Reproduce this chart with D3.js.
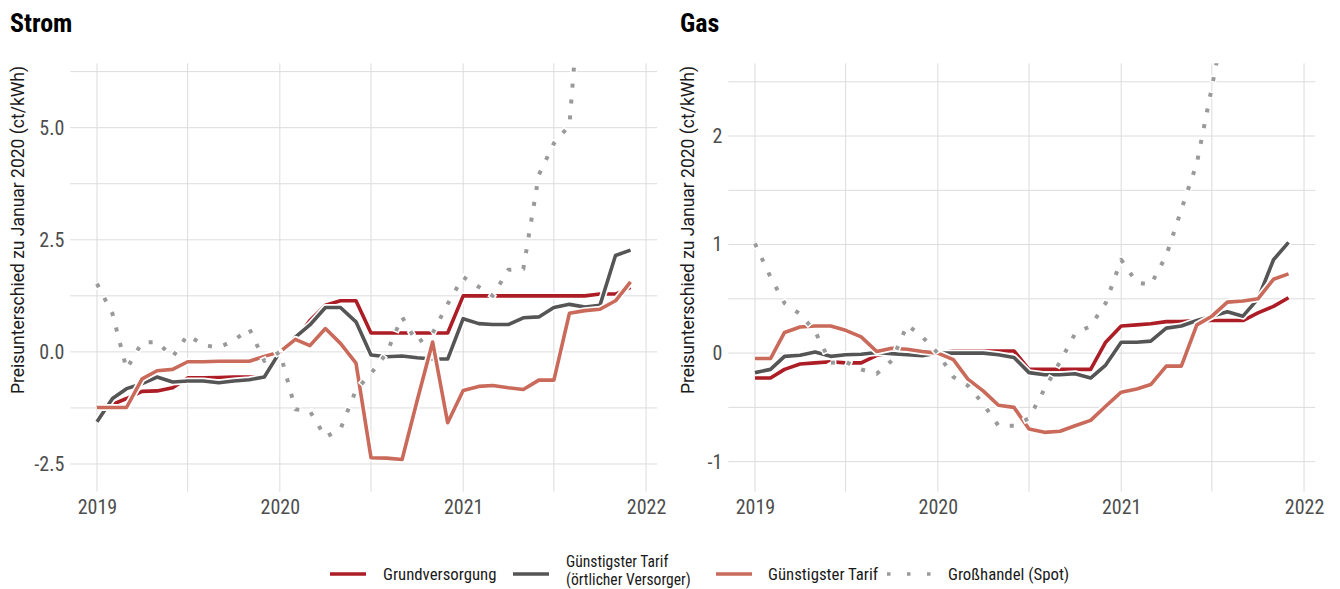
<!DOCTYPE html>
<html>
<head>
<meta charset="utf-8">
<script src="https://cdn.jsdelivr.net/npm/d3@7"></script>
<style>
  body { margin: 0; background: #fff; }
  svg text { font-family: "Roboto Condensed", "Liberation Sans Narrow", "DejaVu Sans Condensed", Roboto, sans-serif; }
  .title { font-weight: bold; font-size: 26px; fill: #000; }
  .axis-title { font-family: Roboto, "Liberation Sans", sans-serif !important; font-size: 17.5px; fill: #1a1a1a; }
  .tick-label { font-size: 20px; fill: #4d4d4d; }
  .legend-label { font-size: 16.8px; fill: #1a1a1a; }
  .legend-label.two { font-size: 15.6px; }
  .grid line { stroke: #dcdcdc; stroke-width: 1; }
</style>
</head>
<body>
<div id="chart"></div>
<script>
// Monthly values, Jan 2019 - Dec 2021 (difference to Jan 2020, ct/kWh)
var months = d3.timeMonth.range(new Date(2019, 0, 1), new Date(2022, 0, 1));

var seriesNames = ['Grundversorgung', 'Günstigster Tarif\n(örtlicher Versorger)', 'Günstigster Tarif', 'Großhandel (Spot)'];
var seriesColors = ['#ad1d25', '#555555', '#c96a5a', '#9a9a9a'];

var stromGrund = [-1.23, -1.17, -1.04, -0.88, -0.87, -0.80, -0.58, -0.58, -0.57, -0.56, -0.56, -0.56,
  0, 0.26, 0.70, 1.04, 1.14, 1.14, 0.42, 0.42, 0.42, 0.42, 0.42, 0.42,
  1.25, 1.25, 1.25, 1.25, 1.25, 1.25, 1.25, 1.25, 1.25, 1.29, 1.29, 1.44];
var stromOrtl = [-1.56, -1.04, -0.82, -0.71, -0.56, -0.67, -0.65, -0.65, -0.69, -0.65, -0.62, -0.56,
  0, 0.33, 0.60, 0.99, 0.99, 0.67, -0.07, -0.11, -0.09, -0.13, -0.16, -0.16,
  0.74, 0.63, 0.61, 0.61, 0.76, 0.78, 0.99, 1.06, 1.00, 1.04, 2.15, 2.27];
var stromGuen = [-1.24, -1.24, -1.24, -0.60, -0.42, -0.39, -0.22, -0.22, -0.21, -0.21, -0.21, -0.10,
  0, 0.28, 0.14, 0.52, 0.19, -0.25, -2.36, -2.37, -2.40, -1.09, 0.22, -1.58,
  -0.86, -0.77, -0.75, -0.80, -0.84, -0.63, -0.63, 0.86, 0.92, 0.95, 1.14, 1.56];
var stromSpot = [1.52, 0.85, -0.38, 0.21, 0.22, -0.11, 0.38, 0.15, 0.10, 0.25, 0.52, -0.20,
  0, -1.28, -1.32, -1.90, -1.72, -0.85, -0.48, -0.03, 0.78, 0.20, 0.42, 1.07,
  1.67, 1.45, 1.25, 1.83, 1.85, 3.95, 4.65, 5.05, 9.50];

var gasGrund = [-0.23, -0.23, -0.15, -0.10, -0.09, -0.08, -0.09, -0.09, -0.02, 0, 0, 0,
  0, 0.02, 0.02, 0.02, 0.02, 0.02, -0.15, -0.15, -0.15, -0.15, -0.15, 0.10,
  0.25, 0.26, 0.27, 0.29, 0.29, 0.30, 0.30, 0.30, 0.30, 0.37, 0.43, 0.51];
var gasOrtl = [-0.18, -0.15, -0.03, -0.02, 0.01, -0.03, -0.015, -0.01, 0.005, -0.005, -0.015, -0.025,
  0, 0, 0, 0, -0.015, -0.04, -0.18, -0.20, -0.20, -0.19, -0.23, -0.11,
  0.10, 0.10, 0.11, 0.23, 0.25, 0.30, 0.34, 0.38, 0.34, 0.50, 0.86, 1.02];
var gasGuen = [-0.05, -0.05, 0.19, 0.24, 0.25, 0.25, 0.21, 0.15, 0.015, 0.045, 0.035, 0.015,
  0, -0.06, -0.24, -0.35, -0.48, -0.50, -0.70, -0.73, -0.72, -0.67, -0.62, -0.49,
  -0.36, -0.33, -0.29, -0.12, -0.12, 0.26, 0.34, 0.47, 0.48, 0.50, 0.68, 0.73];
var gasSpot = [1.01, 0.70, 0.46, 0.36, 0.20, -0.09, -0.08, -0.15, -0.19, -0.07, 0.26, 0.15,
  0, -0.22, -0.30, -0.47, -0.67, -0.67, -0.60, -0.33, -0.08, 0.18, 0.25, 0.46,
  0.86, 0.65, 0.63, 0.90, 1.32, 1.75, 2.45, 3.20];

var yearTicks = [new Date(2019, 0, 1), new Date(2020, 0, 1), new Date(2021, 0, 1), new Date(2022, 0, 1)];
var minorXTicks = [new Date(2019, 6, 1), new Date(2020, 6, 1), new Date(2021, 6, 1)];
var stromTicks = [-2.5, 0, 2.5, 5];
var stromMinor = [-1.25, 1.25, 3.75, 6.25];
var gasTicks = [-1, 0, 1, 2];
var gasMinor = [-0.5, 0.5, 1.5, 2.5];

var panels = [
  { title: 'Strom', left: 0, plotX: [70.3, 657.2], yDomain: [-3.118, 6.436],
    ticks: stromTicks, minor: stromMinor, fmt: d => d.toFixed(1),
    data: [stromGrund, stromOrtl, stromGuen, stromSpot] },
  { title: 'Gas', left: 670, plotX: [728.3, 1315.2], yDomain: [-1.277, 2.67],
    ticks: gasTicks, minor: gasMinor, fmt: d => String(d),
    data: [gasGrund, gasOrtl, gasGuen, gasSpot] }
];

var width = 1340, height = 589;
var plotTop = 63.3, plotBottom = 491.7;

var svg = d3.select('#chart').append('svg')
  .attr('width', width)
  .attr('height', height);

panels.forEach(function(p, pi) {
  var g = svg.append('g');

  var span = months[months.length - 1] - months[0];
  var pad = span * 0.05;
  var xScale = d3.scaleTime()
    .domain([new Date(+months[0] - pad), new Date(+months[months.length - 1] + pad)])
    .range(p.plotX);
  var yScale = d3.scaleLinear()
    .domain(p.yDomain)
    .range([plotBottom, plotTop]);

  // grid
  var grid = g.append('g').attr('class', 'grid');
  grid.selectAll('.hy')
    .data(p.ticks.concat(p.minor).filter(v => v >= p.yDomain[0] && v <= p.yDomain[1]))
    .enter().append('line')
    .attr('x1', p.plotX[0]).attr('x2', p.plotX[1])
    .attr('y1', d => yScale(d)).attr('y2', d => yScale(d));
  grid.selectAll('.vx')
    .data(yearTicks.concat(minorXTicks))
    .enter().append('line')
    .attr('x1', d => xScale(d)).attr('x2', d => xScale(d))
    .attr('y1', plotTop).attr('y2', plotBottom);

  // axes (labels only)
  var yAxis = d3.axisLeft(yScale).tickValues(p.ticks).tickFormat(p.fmt).tickSize(0).tickPadding(6);
  var yg = g.append('g')
    .attr('transform', `translate(${p.plotX[0]},0)`)
    .call(yAxis);
  yg.select('.domain').remove();
  yg.selectAll('text').attr('class', 'tick-label').attr('fill', null);

  var xAxis = d3.axisBottom(xScale).tickValues(yearTicks).tickFormat(d3.timeFormat('%Y')).tickSize(0).tickPadding(8);
  var xg = g.append('g')
    .attr('transform', `translate(0,${plotBottom})`)
    .call(xAxis);
  xg.select('.domain').remove();
  xg.selectAll('text').attr('class', 'tick-label').attr('fill', null);

  // titles
  g.append('text')
    .attr('class', 'title')
    .attr('x', p.left + 10)
    .attr('y', 32)
    .text(p.title);

  g.append('text')
    .attr('class', 'axis-title')
    .attr('transform', `translate(${p.left + 24},230) rotate(-90)`)
    .attr('text-anchor', 'middle')
    .text('Preisunterschied zu Januar 2020 (ct/kWh)');

  // lines
  var clipId = 'clip' + pi;
  svg.append('clipPath').attr('id', clipId)
    .append('rect')
    .attr('x', p.plotX[0]).attr('y', plotTop)
    .attr('width', p.plotX[1] - p.plotX[0]).attr('height', plotBottom - plotTop);

  var line = d3.line()
    .x((d, i) => xScale(months[i]))
    .y(d => yScale(d));

  var lines = g.append('g').attr('clip-path', `url(#${clipId})`);
  p.data.forEach(function(values, si) {
    var dotted = si === 3;
    // white halo
    lines.append('path')
      .attr('d', line(values))
      .attr('fill', 'none')
      .attr('stroke', '#fff')
      .attr('stroke-width', 7)
      .attr('stroke-linejoin', 'round')
      .attr('stroke-dasharray', dotted ? '7 9' : null)
      .attr('stroke-dashoffset', dotted ? 1.5 : null);
    lines.append('path')
      .attr('d', line(values))
      .attr('fill', 'none')
      .attr('stroke', seriesColors[si])
      .attr('stroke-width', dotted ? 4 : 3.6)
      .attr('stroke-linejoin', 'round')
      .attr('stroke-dasharray', dotted ? '4 12' : null);
  });
});

// legend
var legendItems = [
  { key: 330, text: 383 },
  { key: 513, text: 566 },
  { key: 716, text: 768 },
  { key: 887, text: 948 }
];
var legend = svg.append('g').attr('class', 'legend');
legendItems.forEach(function(item, i) {
  var dotted = i === 3;
  legend.append('line')
    .attr('x1', item.key).attr('x2', item.key + (dotted ? 44 : 36))
    .attr('y1', 574).attr('y2', 574)
    .attr('stroke', seriesColors[i])
    .attr('stroke-width', dotted ? 3.5 : 3.6)
    .attr('stroke-dasharray', dotted ? '3.5 16.5' : null);
  var parts = seriesNames[i].split('\n');
  parts.forEach(function(s, k) {
    legend.append('text')
      .attr('class', parts.length > 1 ? 'legend-label two' : 'legend-label')
      .attr('x', item.text)
      .attr('y', parts.length > 1 ? 567 + k * 18 : 580)
      .text(s);
  });
});
</script>
</body>
</html>
